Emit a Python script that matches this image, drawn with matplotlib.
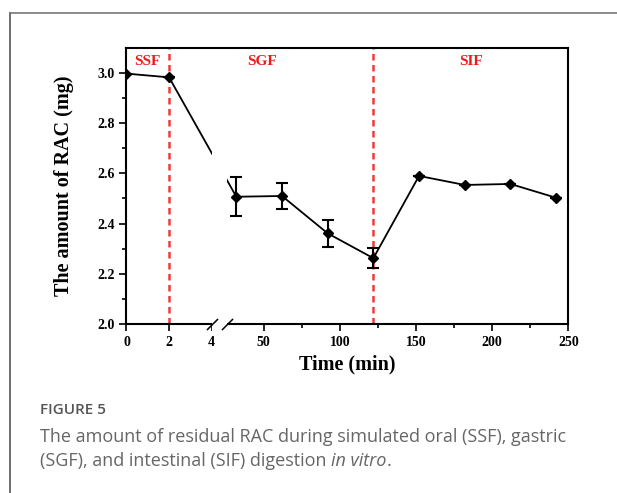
import numpy as np
import matplotlib.pyplot as plt
import matplotlib.transforms as mtransforms
from matplotlib.patches import Rectangle

# Dane
czas = [0, 2, 32, 62, 92, 122, 152, 182, 212, 242]
rac = [2.998, 2.983, 2.507, 2.510, 2.361, 2.262, 2.590, 2.554, 2.558, 2.503]
blad = [0, 0, 0.078, 0.052, 0.053, 0.040, 0, 0, 0, 0]
granice = [2, 122]
fazy = ['SSF', 'SGF', 'SIF']
fazy_x = [1, 49, 186]
xticks_major = [0, 2, 4, 50, 100, 150, 200, 250]
xticks_minor = [75, 125, 175, 225]
yticks_major = [2.0, 2.2, 2.4, 2.6, 2.8, 3.0]

# Przerwana oś czasu (0-4 min, potem 26-250 min)
_t = [-100, 0, 4, 26, 1000]
_s = [-2130, 0, 85.2, 100.7, 100.7 + 974 * 1.5225]


def fwd(t):
    return np.interp(t, _t, _s)


def inv(s):
    return np.interp(s, _s, _t)


plt.rcParams['font.family'] = 'Liberation Serif'
plt.rcParams['font.weight'] = 'bold'

fig = plt.figure(figsize=(6.17, 4.93), dpi=100)
ax = fig.add_axes([0.205, 0.343, 0.716, 0.5596])
ax.set_xscale('function', functions=(fwd, inv))

ax.errorbar(czas, rac, yerr=blad, color='black', marker='D', markersize=5,
            linewidth=1.3, elinewidth=1.5, capsize=4, capthick=1.5, zorder=2)
for g in granice:
    ax.axvline(g, color='#f03a3a', linestyle=(0, (2.6, 1.8)), linewidth=1.8, zorder=1.8)
for f, fx in zip(fazy, fazy_x):
    ax.text(fx, 3.045, f, color='#f01818', fontsize=11, fontweight='bold',
            ha='center', va='center')

# ukrycie linii w miejscu przerwania osi
trans = mtransforms.blended_transform_factory(ax.transData, ax.transAxes)
ax.add_patch(Rectangle((4.05, -0.03), 26 - 4.05, 1.015, transform=trans,
                       facecolor='white', edgecolor='none', zorder=3, clip_on=False))
ax.plot([4.1, 25.6], [0, 0], transform=trans, linestyle='none',
        marker=[(-1, -1), (1, 1)], markersize=8, color='black',
        markeredgewidth=1.1, clip_on=False, zorder=4)

ax.set_xlim(0, 250)
ax.set_ylim(2.0, 3.1)
ax.set_xticks(xticks_major)
ax.set_xticks(xticks_minor, minor=True)
ax.set_yticks(yticks_major)
ax.set_yticks(np.arange(2.1, 3.1, 0.2), minor=True)
ax.set_yticklabels(['%.1f' % v for v in yticks_major])
ax.tick_params(axis='both', which='major', direction='out', length=5, width=1.2,
               labelsize=10)
ax.tick_params(axis='both', which='minor', direction='out', length=3, width=1.2)
ax.tick_params(top=False, right=False)
for sp in ax.spines.values():
    sp.set_linewidth(1.5)

ax.set_xlabel('Time (min)', fontsize=14.5, fontweight='bold', labelpad=4)
ax.set_ylabel('The amount of RAC (mg)', fontsize=14.5, fontweight='bold', labelpad=17)

# ramka i podpis
fig.add_artist(plt.Line2D([10 / 617, 10 / 617], [0, 1 - 13 / 493], color='#555555',
                          linewidth=1.2, transform=fig.transFigure))
fig.add_artist(plt.Line2D([10 / 617, 1], [1 - 13 / 493, 1 - 13 / 493], color='#777777',
                          linewidth=1.2, transform=fig.transFigure))
fig.text(40 / 617, 1 - 410 / 493, 'FIGURE 5', fontsize=11, color='#555555',
         family='Open Sans', fontweight='semibold', va='center')
fig.text(40 / 617, 1 - 437 / 493,
         'The amount of residual RAC during simulated oral (SSF), gastric',
         fontsize=13, color='#666666', family='Open Sans', fontweight='normal', va='center')
t2 = fig.text(40 / 617, 1 - 461 / 493, '(SGF), and intestinal (SIF) digestion ',
              fontsize=13, color='#666666', family='Open Sans', fontweight='normal',
              va='center')
fig.canvas.draw()
bb = t2.get_window_extent()
t3 = fig.text(bb.x1 / fig.bbox.width, 1 - 461 / 493, 'in vitro', fontsize=13,
              color='#666666', family='Open Sans', fontweight='normal', style='italic',
              va='center')
fig.canvas.draw()
bb3 = t3.get_window_extent()
fig.text(bb3.x1 / fig.bbox.width, 1 - 461 / 493, '.', fontsize=13,
         color='#666666', family='Open Sans', fontweight='normal', va='center')

fig.savefig('out.png', dpi=100)
